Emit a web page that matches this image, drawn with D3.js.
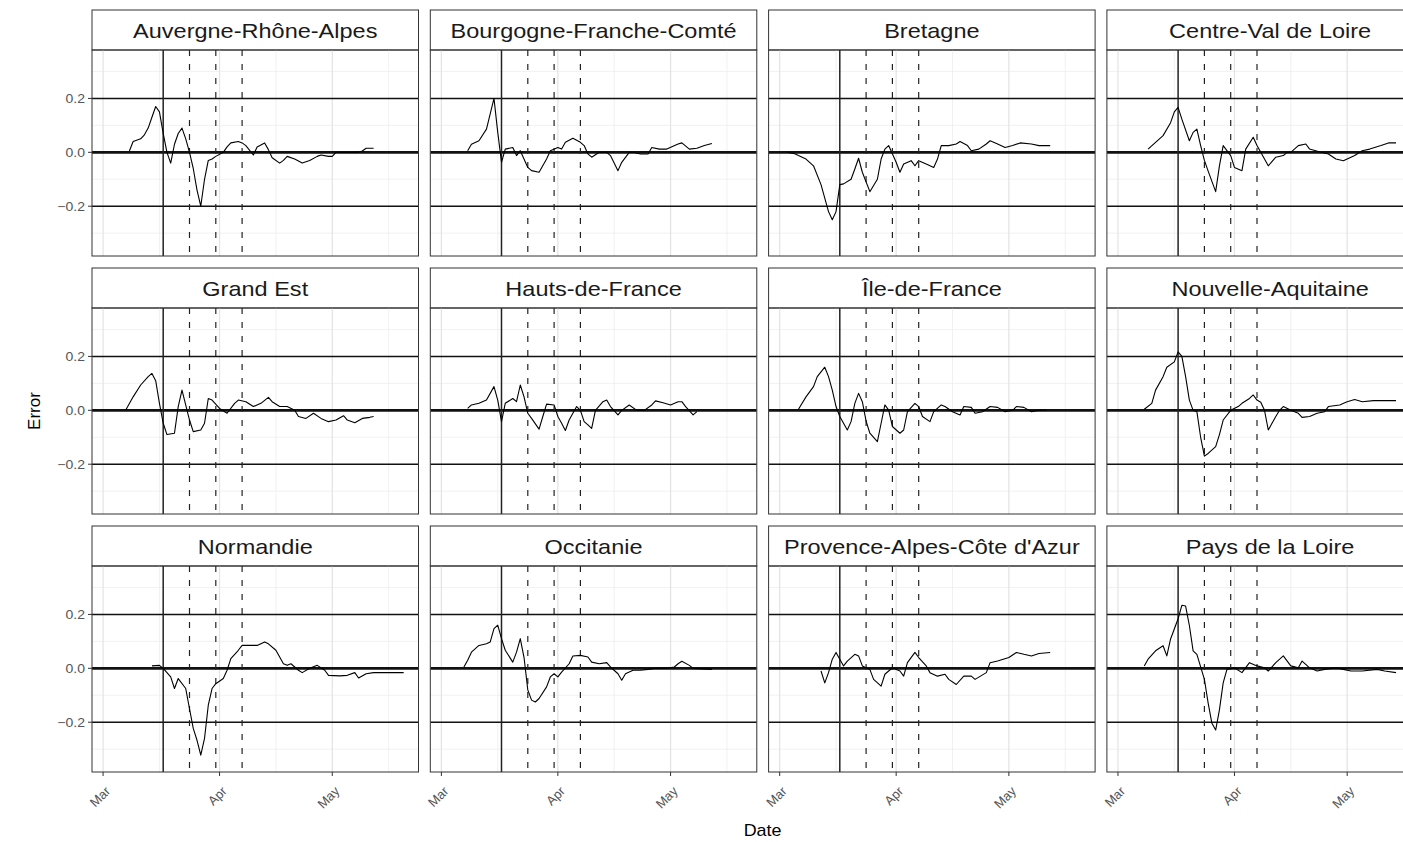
<!DOCTYPE html>
<html>
<head>
<meta charset="utf-8">
<script src="https://cdn.jsdelivr.net/npm/d3@7"></script>
<style>
body { margin: 0; background: #fff; }
svg { display: block; font-family: 'Liberation Sans', Arial, sans-serif; }
</style>
</head>
<body>
<div id="chart"></div>
<script>
/* global d3 */

// facet titles, in panel order
const regions = ['Auvergne-Rhône-Alpes', 'Bourgogne-Franche-Comté', 'Bretagne', 'Centre-Val de Loire',
    'Grand Est', 'Hauts-de-France', 'Île-de-France', 'Nouvelle-Aquitaine',
    'Normandie', 'Occitanie', "Provence-Alpes-Côte d'Azur", 'Pays de la Loire']

// error series: [days since 1 March 2020, error]
const errAuvergne = [[7, 0.005], [8, 0.04], [10, 0.05], [11, 0.065], [12, 0.09], [13, 0.13], [14, 0.17], [15, 0.15], [16, 0.07], [17, 0.0], [18, -0.04], [19, 0.03], [20, 0.07], [21, 0.09], [22, 0.05], [23, 0.0], [24, -0.06], [25, -0.14], [26, -0.2], [27, -0.1], [28, -0.03], [29, -0.025], [30, -0.015], [32, 0.0], [33, 0.02], [34, 0.035], [36, 0.04], [37, 0.035], [38, 0.025], [40, -0.01], [41, 0.02], [43, 0.035], [44, 0.01], [45, -0.02], [47, -0.04], [48, -0.03], [49, -0.015], [51, -0.025], [53, -0.04], [55, -0.03], [57, -0.015], [58, -0.01], [60, -0.015], [61, -0.015], [62, 0.0], [65, 0.0], [68, 0.0], [69, 0.005], [70, 0.015], [72, 0.015]]
const errBourgogne = [[7, 0.006], [8, 0.03], [10, 0.043], [12, 0.086], [14, 0.2], [15, 0.074], [16, -0.037], [17, 0.012], [19, 0.018], [20, -0.012], [21, 0.006], [23, -0.056], [24, -0.068], [26, -0.074], [28, -0.025], [29, 0.006], [31, 0.018], [32, 0.012], [33, 0.037], [35, 0.052], [37, 0.037], [38, 0.025], [39, -0.006], [40, -0.018], [42, 0], [44, 0], [45, -0.012], [47, -0.068], [48, -0.037], [50, 0], [51, 0], [53, -0.006], [55, -0.006], [56, 0.018], [58, 0.012], [60, 0.012], [63, 0.031], [64, 0.035], [66, 0.012], [68, 0.015], [70, 0.025], [72, 0.033]]
const errBretagne = [[2, 0], [4, -0.005], [5, -0.012], [7, -0.025], [9, -0.05], [11, -0.12], [12, -0.17], [13, -0.22], [14, -0.25], [15, -0.22], [16, -0.12], [17, -0.117], [19, -0.1], [20, -0.062], [21, -0.022], [22, -0.074], [24, -0.146], [26, -0.1], [27, -0.025], [28, 0.012], [29, 0.025], [31, -0.037], [32, -0.074], [33, -0.043], [35, -0.031], [36, -0.05], [37, -0.031], [39, -0.043], [41, -0.056], [42, -0.025], [43, 0.025], [45, 0.025], [47, 0.031], [48, 0.04], [50, 0.025], [51, 0.006], [53, 0.012], [55, 0.031], [56, 0.043], [58, 0.031], [60, 0.018], [62, 0.025], [64, 0.035], [67, 0.031], [69, 0.025], [72, 0.025]]
const errCentre = [[8, 0.012], [10, 0.037], [12, 0.062], [14, 0.11], [15, 0.15], [16, 0.167], [17, 0.123], [19, 0.043], [20, 0.074], [21, 0.086], [22, 0.025], [23, -0.03], [24, -0.07], [26, -0.146], [27, -0.05], [28, 0.025], [30, -0.012], [31, -0.056], [33, -0.068], [34, 0.012], [36, 0.056], [37, 0.025], [39, -0.025], [40, -0.05], [42, -0.018], [44, -0.012], [45, 0], [46, 0], [48, 0.025], [50, 0.031], [51, 0.012], [54, 0], [56, -0.006], [58, -0.025], [60, -0.031], [63, -0.012], [65, 0.006], [67, 0.012], [70, 0.025], [72, 0.035], [74, 0.035]]
const errGrandEst = [[6, 0], [8, 0.05], [10, 0.094], [12, 0.125], [13, 0.137], [14, 0.11], [15, 0.026], [16, -0.048], [17, -0.09], [19, -0.085], [20, 0.014], [21, 0.075], [23, -0.036], [24, -0.079], [26, -0.073], [27, -0.048], [28, 0.044], [29, 0.038], [31, 0.007], [33, -0.011], [35, 0.026], [36, 0.038], [38, 0.032], [40, 0.014], [42, 0.026], [44, 0.048], [45, 0.032], [47, 0.014], [49, 0.014], [51, 0], [52, -0.023], [54, -0.03], [56, -0.011], [58, -0.03], [60, -0.042], [62, -0.036], [64, -0.02], [65, -0.036], [67, -0.046], [69, -0.03], [71, -0.026], [72, -0.023]]
const errHauts = [[7, 0.007], [8, 0.02], [10, 0.026], [12, 0.038], [14, 0.088], [15, 0.038], [16, -0.042], [17, 0.026], [19, 0.044], [20, 0.032], [21, 0.094], [22, 0.05], [23, -0.011], [24, -0.03], [26, -0.07], [27, -0.023], [28, 0.023], [30, 0.02], [31, -0.023], [32, -0.048], [33, -0.075], [34, -0.036], [36, 0.014], [37, 0], [38, -0.042], [39, -0.054], [40, -0.067], [41, 0], [43, 0.032], [44, 0.038], [45, 0.014], [47, -0.017], [48, 0], [50, 0.02], [52, 0], [54, 0], [56, 0.02], [57, 0.035], [59, 0.028], [61, 0.02], [63, 0.032], [64, 0.032], [65, 0.014], [67, -0.017], [68, -0.005]]
const errIdf = [[5, 0.004], [7, 0.05], [9, 0.088], [10, 0.125], [12, 0.16], [13, 0.125], [14, 0.075], [15, 0.014], [16, -0.023], [18, -0.073], [19, -0.042], [20, 0.026], [21, 0.063], [22, 0.032], [23, -0.04], [24, -0.085], [26, -0.116], [27, -0.048], [28, 0.02], [29, 0.001], [30, -0.06], [32, -0.085], [33, -0.073], [34, -0.005], [36, 0.026], [37, 0.014], [38, -0.023], [40, -0.042], [41, -0.005], [43, 0.02], [44, 0.014], [46, -0.005], [48, -0.017], [49, 0.014], [51, 0.011], [52, -0.011], [54, -0.005], [56, 0.014], [58, 0.011], [60, -0.005], [62, 0], [63, 0.014], [65, 0.011], [67, -0.005], [69, 0], [71, 0.001]]
const errNouvelle = [[7, 0.004], [9, 0.026], [10, 0.075], [12, 0.125], [13, 0.16], [15, 0.18], [16, 0.217], [17, 0.2], [18, 0.125], [19, 0.038], [20, 0], [21, -0.005], [22, -0.1], [23, -0.17], [24, -0.16], [26, -0.135], [27, -0.09], [28, -0.036], [30, 0], [32, 0.014], [33, 0.026], [35, 0.044], [36, 0.057], [37, 0.038], [38, 0.03], [39, 0.0], [40, -0.073], [42, -0.023], [43, 0], [44, 0.014], [46, 0], [48, -0.011], [49, -0.026], [51, -0.023], [53, -0.011], [55, -0.005], [56, 0.014], [59, 0.02], [61, 0.032], [63, 0.04], [65, 0.032], [68, 0.036], [70, 0.036], [72, 0.036], [74, 0.036]]
const errNormandie = [[13, 0.009], [15, 0.011], [16, 0], [18, -0.032], [19, -0.075], [20, -0.038], [22, -0.075], [23, -0.15], [24, -0.223], [25, -0.267], [26, -0.322], [27, -0.26], [28, -0.137], [29, -0.075], [30, -0.057], [32, -0.038], [33, -0.007], [34, 0.036], [36, 0.067], [37, 0.085], [39, 0.085], [41, 0.085], [43, 0.098], [44, 0.091], [46, 0.067], [48, 0.017], [49, 0.011], [50, 0.017], [52, -0.007], [53, -0.016], [55, 0], [57, 0.011], [59, -0.007], [60, -0.026], [63, -0.028], [65, -0.026], [67, -0.016], [68, -0.036], [70, -0.02], [72, -0.016], [76, -0.016], [80, -0.016]]
const errOccitanie = [[6, 0.005], [7, 0.03], [8, 0.06], [10, 0.085], [12, 0.091], [13, 0.098], [14, 0.147], [15, 0.16], [16, 0.11], [17, 0.067], [19, 0.023], [20, 0.06], [21, 0.11], [22, 0.04], [23, -0.08], [24, -0.118], [25, -0.125], [26, -0.112], [28, -0.069], [29, -0.032], [30, -0.02], [31, -0.032], [32, -0.014], [34, 0.017], [35, 0.046], [37, 0.048], [39, 0.042], [40, 0.023], [42, 0.017], [44, 0.021], [45, 0.005], [47, -0.02], [48, -0.044], [49, -0.02], [51, -0.007], [53, -0.007], [55, -0.004], [57, 0], [60, 0], [62, 0.005], [63, 0.017], [64, 0.026], [66, 0.011], [67, 0], [72, -0.004]]
const errPaca = [[11, -0.01], [12, -0.054], [13, -0.016], [14, 0.034], [15, 0.059], [16, 0.034], [17, 0.009], [18, 0.027], [20, 0.052], [21, 0.046], [22, 0.009], [24, -0.004], [25, -0.041], [27, -0.066], [28, -0.022], [30, 0.002], [32, -0.01], [33, -0.029], [34, 0.021], [36, 0.059], [37, 0.04], [39, 0.009], [40, -0.016], [42, -0.029], [44, -0.022], [45, -0.041], [47, -0.06], [49, -0.029], [51, -0.029], [52, -0.041], [55, -0.016], [56, 0.021], [58, 0.027], [61, 0.04], [63, 0.059], [65, 0.052], [67, 0.046], [69, 0.055], [72, 0.059]]
const errPays = [[7, 0.009], [8, 0.034], [10, 0.065], [12, 0.084], [13, 0.046], [14, 0.109], [16, 0.184], [17, 0.234], [18, 0.231], [19, 0.159], [20, 0.065], [21, 0.052], [23, -0.041], [24, -0.129], [25, -0.204], [26, -0.229], [27, -0.154], [28, -0.054], [29, -0.004], [31, 0.002], [33, -0.016], [35, 0.021], [37, 0.009], [39, 0.002], [40, -0.01], [42, 0.021], [44, 0.046], [46, 0.009], [48, 0.002], [49, 0.027], [51, 0.002], [53, -0.01], [55, -0.004], [58, 0.002], [60, -0.004], [62, -0.01], [65, -0.01], [69, -0.004], [71, -0.01], [74, -0.016]]

const seriesList = [errAuvergne, errBourgogne, errBretagne, errCentre, errGrandEst, errHauts,
    errIdf, errNouvelle, errNormandie, errOccitanie, errPaca, errPays]

// reference lines
const lockdownDate = '2020-03-17'
const dashedDates = ['2020-03-24', '2020-03-31', '2020-04-07']
const hLineValues = [-0.2, 0, 0.2]

// axes
const xRange = ['2020-03-02', '2020-05-20']
const yRange = [-0.35, 0.345]
const xTickDates = ['2020-03-01', '2020-04-01', '2020-05-01']
const xTickLabels = ['Mar', 'Apr', 'May']
const xMinorDates = ['2020-03-16', '2020-04-16', '2020-05-16']
const yTicks = [-0.2, 0, 0.2]
const yMinorTicks = [-0.3, -0.1, 0.1, 0.3]

const svgWidth = 1403
const svgHeight = 842
const nCols = 4
const left0 = 92
const colPitch = 338.3
const panelW = 326.5
const top0 = 10
const rowPitch = 258
const stripH = 40
const panelH = 206
const textStretch = 1.12

const parse = d3.utcParse('%Y-%m-%d')
const day0 = parse('2020-03-01')
const toDate = (d) => d3.utcDay.offset(day0, d)

function expand (lo, hi) {
    let span = hi - lo
    return [lo - 0.05 * span, hi + 0.05 * span]
}

let xDom = expand(+parse(xRange[0]), +parse(xRange[1]))
let x = d3.scaleUtc()
    .domain([new Date(xDom[0]), new Date(xDom[1])])
    .range([0, panelW])

let y = d3.scaleLinear()
    .domain(expand(yRange[0], yRange[1]))
    .range([panelH, 0])

let line = d3.line()
    .x((d) => x(toDate(d[0])))
    .y((d) => y(d[1]))

let svg = d3.select('#chart').append('svg')
    .attr('width', svgWidth)
    .attr('height', svgHeight)

svg.append('rect').attr('width', svgWidth).attr('height', svgHeight).attr('fill', '#fff')

let nRows = Math.ceil(regions.length / nCols)

regions.forEach((region, i) => {
    let col = i % nCols
    let row = Math.floor(i / nCols)
    let px = left0 + col * colPitch
    let py = top0 + row * rowPitch

    let g = svg.append('g').attr('transform', 'translate(' + px + ',' + py + ')')

    // strip
    g.append('rect')
        .attr('x', 0).attr('y', 0)
        .attr('width', panelW).attr('height', stripH)
        .attr('fill', '#fff').attr('stroke', '#333').attr('stroke-width', 1)
    g.append('text')
        .attr('transform', 'translate(' + (panelW / 2) + ',' + (stripH / 2 + 7.5) + ') scale(' + textStretch + ',1)')
        .attr('text-anchor', 'middle')
        .attr('font-size', 21)
        .attr('fill', '#1a1a1a')
        .text(region)

    let p = g.append('g').attr('transform', 'translate(0,' + stripH + ')')
    let clipId = 'clip' + i
    p.append('clipPath').attr('id', clipId)
        .append('rect').attr('width', panelW).attr('height', panelH)

    let inner = p.append('g').attr('clip-path', 'url(#' + clipId + ')')

    // grid
    inner.selectAll('.yminor').data(yMinorTicks).enter().append('line')
        .attr('x1', 0).attr('x2', panelW)
        .attr('y1', (d) => y(d)).attr('y2', (d) => y(d))
        .attr('stroke', '#ebebeb').attr('stroke-width', 0.7)
    inner.selectAll('.xminor').data(xMinorDates).enter().append('line')
        .attr('y1', 0).attr('y2', panelH)
        .attr('x1', (d) => x(parse(d))).attr('x2', (d) => x(parse(d)))
        .attr('stroke', '#ebebeb').attr('stroke-width', 0.7)
    inner.selectAll('.xmajor').data(xTickDates).enter().append('line')
        .attr('y1', 0).attr('y2', panelH)
        .attr('x1', (d) => x(parse(d))).attr('x2', (d) => x(parse(d)))
        .attr('stroke', '#e3e3e3').attr('stroke-width', 1.2)

    // reference lines
    inner.selectAll('.hline').data(hLineValues).enter().append('line')
        .attr('x1', 0).attr('x2', panelW)
        .attr('y1', (d) => y(d)).attr('y2', (d) => y(d))
        .attr('stroke', '#111')
        .attr('stroke-width', (d) => d === 0 ? 2.6 : 1.4)
    inner.append('line')
        .attr('x1', x(parse(lockdownDate))).attr('x2', x(parse(lockdownDate)))
        .attr('y1', 0).attr('y2', panelH)
        .attr('stroke', '#222').attr('stroke-width', 1.5)
    inner.selectAll('.vdash').data(dashedDates).enter().append('line')
        .attr('x1', (d) => x(parse(d))).attr('x2', (d) => x(parse(d)))
        .attr('y1', 0).attr('y2', panelH)
        .attr('stroke', '#222').attr('stroke-width', 1.2)
        .attr('stroke-dasharray', '6,8')

    // series
    inner.append('path')
        .datum(seriesList[i])
        .attr('d', line)
        .attr('fill', 'none')
        .attr('stroke', '#000')
        .attr('stroke-width', 1.1)
        .attr('stroke-linejoin', 'round')

    // border
    p.append('rect')
        .attr('width', panelW).attr('height', panelH)
        .attr('fill', 'none').attr('stroke', '#333').attr('stroke-width', 1)

    // y axis on first column
    if (col === 0) {
        let ya = p.append('g')
        ya.selectAll('line').data(yTicks).enter().append('line')
            .attr('x1', -4).attr('x2', 0)
            .attr('y1', (d) => y(d)).attr('y2', (d) => y(d))
            .attr('stroke', '#333')
        ya.selectAll('text').data(yTicks).enter().append('text')
            .attr('transform', (d) => 'translate(-7,' + (y(d) + 4.5) + ') scale(' + textStretch + ',1)')
            .attr('text-anchor', 'end')
            .attr('font-size', 12.5)
            .attr('fill', '#555')
            .text((d) => d3.format('.1f')(d))
    }

    // x axis on last row
    if (row === nRows - 1) {
        let xa = p.append('g').attr('transform', 'translate(0,' + panelH + ')')
        xa.selectAll('line').data(xTickDates).enter().append('line')
            .attr('x1', (d) => x(parse(d))).attr('x2', (d) => x(parse(d)))
            .attr('y1', 0).attr('y2', 4)
            .attr('stroke', '#333')
        xa.selectAll('text').data(xTickDates).enter().append('text')
            .attr('transform', (d) => 'translate(' + (x(parse(d)) + 8) + ',20) rotate(-45)')
            .attr('text-anchor', 'end')
            .attr('font-size', 13)
            .attr('fill', '#555')
            .text((d, k) => xTickLabels[k])
    }
})

// axis titles
let gridW = left0 + 2 * colPitch - 6
svg.append('text')
    .attr('transform', 'translate(' + gridW + ',836) scale(' + textStretch + ',1)')
    .attr('text-anchor', 'middle')
    .attr('font-size', 16)
    .attr('fill', '#000')
    .text('Date')

svg.append('text')
    .attr('transform', 'translate(40,' + (top0 + rowPitch + stripH + panelH / 2) + ') rotate(-90)')
    .attr('text-anchor', 'middle')
    .attr('font-size', 17)
    .attr('fill', '#000')
    .text('Error')
</script>
</body>
</html>
